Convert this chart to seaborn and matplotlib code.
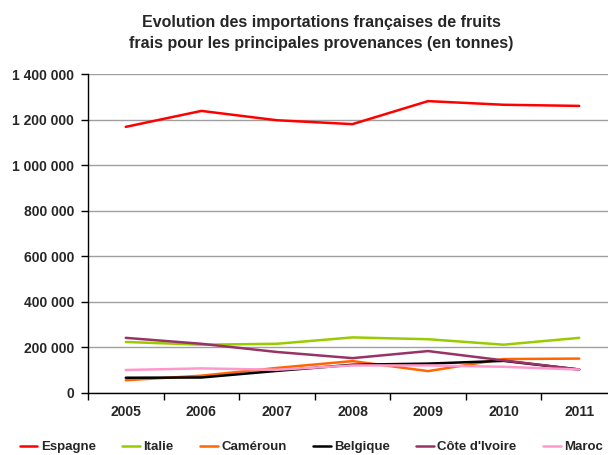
import matplotlib
matplotlib.use("Agg")
import matplotlib.pyplot as plt
import seaborn as sns
import pandas as pd
import numpy as np
from matplotlib.ticker import FixedLocator, FuncFormatter
from matplotlib.lines import Line2D

years = [2005, 2006, 2007, 2008, 2009, 2010, 2011]
espagne = [1168000, 1238000, 1197000, 1180000, 1281000, 1265000, 1260000]
italie = [224000, 212000, 216000, 244000, 236000, 212000, 242000]
cameroun = [56000, 76000, 110000, 140000, 96000, 149000, 151000]
belgique = [67000, 68000, 97000, 124000, 129000, 141000, 103000]
cote_ivoire = [242000, 216000, 180000, 153000, 184000, 143000, 103000]
maroc = [101000, 108000, 102000, 121000, 121000, 115000, 103000]

series = {
    "Espagne": espagne,
    "Italie": italie,
    "Caméroun": cameroun,
    "Belgique": belgique,
    "Côte d'Ivoire": cote_ivoire,
    "Maroc": maroc,
}
colors = {
    "Espagne": "#FF0000",
    "Italie": "#99CC00",
    "Caméroun": "#FF6600",
    "Belgique": "#000000",
    "Côte d'Ivoire": "#993366",
    "Maroc": "#FF99CC",
}

rows = []
for name, vals in series.items():
    for y, v in zip(years, vals):
        rows.append({"Année": y, "Tonnes": v, "Pays": name})
df = pd.DataFrame(rows)

sns.set_theme(style="white")
plt.rcParams['font.family'] = ['Liberation Sans', 'DejaVu Sans']

fig = plt.figure(figsize=(6.08, 4.55), dpi=100)
left, right, top, bottom = 88, 617, 74, 393
ax = fig.add_axes([left/608, 1 - bottom/455, (right-left)/608, (bottom-top)/455])

sns.lineplot(data=df, x="Année", y="Tonnes", hue="Pays", palette=colors,
             hue_order=list(series.keys()), linewidth=1.8, ax=ax, legend=False)

ax.set_xlim(years[0] - 0.5, years[-1] + 0.5)
ax.set_ylim(0, 1400000)
ax.set_yticks(np.arange(0, 1400001, 200000))
ax.yaxis.set_major_formatter(FuncFormatter(lambda v, p: f"{int(v):,}".replace(",", " ")))
ax.set_xticks(years)
ax.set_xticklabels([str(y) for y in years])
ax.xaxis.set_minor_locator(FixedLocator([y + 0.5 for y in [years[0] - 1] + years]))
ax.tick_params(axis="x", which="major", length=0, pad=9)
ax.tick_params(axis="x", which="minor", length=5, width=1, color="black", direction="out", bottom=True)
ax.tick_params(axis="y", length=5, width=1, color="black", direction="out", left=True, pad=5)
for lab in ax.get_xticklabels() + ax.get_yticklabels():
    lab.set_fontweight("bold")
    lab.set_fontsize(10)
ax.grid(axis="y", color="#A0A0A0", linewidth=1)
ax.set_axisbelow(True)
for s in ["top", "right"]:
    ax.spines[s].set_visible(False)
for s in ["left", "bottom"]:
    ax.spines[s].set_color("black")
    ax.spines[s].set_linewidth(1)
ax.set_xlabel("")
ax.set_ylabel("")

fig.text(0.528, 1 - 33/455,
         "Evolution des importations françaises de fruits\nfrais pour les principales provenances (en tonnes)",
         ha="center", va="center", fontsize=11.5, fontweight="bold", linespacing=1.55)

handles = [Line2D([0], [0], color=colors[n], lw=1.8) for n in series]
leg = fig.legend(handles, list(series.keys()), loc="center", bbox_to_anchor=(0.512, 1 - 447/455),
                 ncol=6, frameon=False, handlelength=1.35, handletextpad=0.25, columnspacing=2.0,
                 prop={"weight": "bold", "size": 9.5})

fig.savefig("out.png", dpi=100)
